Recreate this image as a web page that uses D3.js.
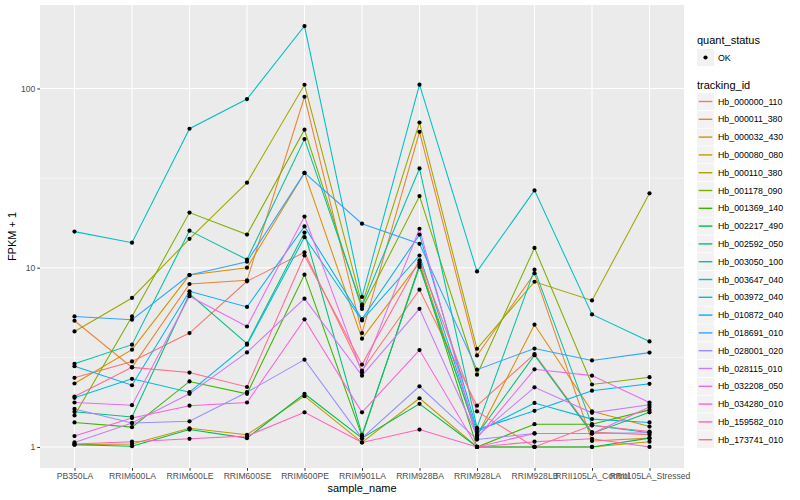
<!DOCTYPE html>
<html>
<head>
<meta charset="utf-8">
<script src="https://d3js.org/d3.v7.min.js"></script>
<style>
body { margin: 0; background: #fff; }
svg { display: block; font-family: "Liberation Sans", Arial, sans-serif; }
.grid-major { stroke: #fff; stroke-width: 1.07; }
.grid-minor { stroke: #fff; stroke-width: 0.53; }
.ttl { fill: #000; font-size: 11px; }
.leg-lab { fill: #000; font-size: 8.8px; }
</style>
<title>FPKM by sample</title>
</head>
<body>
<script>
var samples = ["PB350LA", "RRIM600LA", "RRIM600LE", "RRIM600SE", "RRIM600PE", "RRIM901LA",
  "RRIM928BA", "RRIM928LA", "RRIM928LB", "RRII105LA_Control", "RRII105LA_Stressed"];

var trackingIds = ["Hb_000000_110", "Hb_000011_380", "Hb_000032_430", "Hb_000080_080",
  "Hb_000110_380", "Hb_001178_090", "Hb_001369_140", "Hb_002217_490", "Hb_002592_050",
  "Hb_003050_100", "Hb_003647_040", "Hb_003972_040", "Hb_010872_040", "Hb_018691_010",
  "Hb_028001_020", "Hb_028115_010", "Hb_032208_050", "Hb_034280_010", "Hb_159582_010",
  "Hb_173741_010"];

// FPKM + 1, one row per tracking_id, one value per sample
var fpkm = [
  [2.43, 3.00, 4.32, 8.4, 12.2, 2.67, 7.54, 1.70, 3.30, 1.21, 1.17],
  [5.06, 2.78, 8.11, 8.5, 89.9, 4.32, 57.3, 3.24, 9.3, 1.08, 1.12],
  [2.26, 3.49, 9.1, 10.0, 33.8, 4.02, 10.7, 1.15, 4.81, 1.58, 1.30],
  [1.03, 1.04, 1.27, 1.17, 1.92, 1.06, 1.87, 1.0, 1.0, 1.0, 1.07],
  [4.41, 6.78, 14.5, 29.8, 104.9, 6.22, 64.6, 3.53, 8.35, 6.57, 26.0],
  [1.50, 5.35, 20.3, 15.3, 58.9, 5.89, 25.1, 2.53, 12.9, 2.23, 2.45],
  [1.37, 1.29, 2.32, 1.98, 9.15, 1.15, 10.4, 1.0, 1.34, 1.34, 1.61],
  [1.03, 1.01, 1.25, 1.12, 1.98, 1.12, 1.74, 1.0, 1.0, 1.0, 1.12],
  [1.57, 1.47, 7.14, 3.77, 15.7, 1.17, 10.1, 1.17, 3.25, 1.19, 1.56],
  [2.91, 3.72, 16.1, 11.1, 52.2, 6.09, 35.8, 1.28, 9.75, 1.32, 1.20],
  [15.9, 13.8, 59.6, 87.3, 223, 6.87, 105, 9.53, 27, 5.49, 3.88],
  [1.88, 2.40, 2.02, 3.72, 14.8, 5.08, 11.7, 1.21, 1.76, 1.43, 1.37],
  [2.82, 2.21, 7.39, 6.04, 17.0, 5.17, 15.3, 1.25, 1.59, 2.06, 2.25],
  [5.35, 5.13, 9.1, 10.8, 33.8, 17.6, 13.6, 2.70, 3.54, 3.04, 3.36],
  [1.63, 1.36, 1.39, 2.02, 3.07, 1.12, 2.18, 1.10, 1.19, 1.19, 1.20],
  [1.06, 1.36, 1.98, 3.37, 6.72, 2.50, 5.9, 1.15, 2.15, 1.55, 1.72],
  [1.77, 1.71, 6.93, 4.70, 19.3, 2.60, 16.5, 1.12, 2.71, 2.50, 1.77],
  [1.15, 1.45, 1.70, 1.77, 5.15, 1.56, 3.47, 1.0, 1.19, 1.19, 1.67],
  [1.04, 1.07, 1.11, 1.15, 1.56, 1.06, 1.25, 1.0, 1.07, 1.11, 1.0],
  [1.91, 2.78, 2.60, 2.16, 11.7, 2.88, 11.0, 1.58, 1.0, 1.32, 1.22]
];

var colors = ["#F8766D", "#EA8331", "#D89000", "#C09B00", "#A3A500", "#7CAE00", "#39B600",
  "#00BB4E", "#00BF7D", "#00C1A3", "#00BFC4", "#00BAE0", "#00B0F6", "#35A2FF", "#9590FF",
  "#C77CFF", "#E76BF3", "#FA62DB", "#FF62BC", "#FF6C91"];

var yTicks = [1, 10, 100];
var yMinor = [Math.pow(10, 0.5), Math.pow(10, 1.5)];

var W = 800, H = 500,
    pLeft = 40, pRight = 684, pTop = 5, pBottom = 468;

var svg = d3.select("body").append("svg")
    .attr("width", W)
    .attr("height", H);

var x = d3.scalePoint()
    .domain(samples)
    .range([pLeft, pRight])
    .padding(0.6);

var all = d3.merge(fpkm);
var lo = Math.log10(d3.min(all)), hi = Math.log10(d3.max(all)),
    pad = (hi - lo) * 0.05;
var y = d3.scaleLog()
    .domain([Math.pow(10, lo - pad), Math.pow(10, hi + pad)])
    .range([pBottom, pTop]);

// panel
svg.append("rect")
    .attr("x", pLeft).attr("y", pTop)
    .attr("width", pRight - pLeft).attr("height", pBottom - pTop)
    .attr("fill", "#ebebeb");

svg.selectAll(".gmin")
    .data(yMinor)
  .enter().append("line")
    .attr("class", "grid-minor")
    .attr("x1", pLeft).attr("x2", pRight)
    .attr("y1", y).attr("y2", y);

svg.selectAll(".gy")
    .data(yTicks)
  .enter().append("line")
    .attr("class", "grid-major")
    .attr("x1", pLeft).attr("x2", pRight)
    .attr("y1", y).attr("y2", y);

svg.selectAll(".gx")
    .data(samples)
  .enter().append("line")
    .attr("class", "grid-major")
    .attr("x1", x).attr("x2", x)
    .attr("y1", pTop).attr("y2", pBottom);

// axes
var yAxis = svg.append("g")
    .attr("transform", "translate(" + pLeft + ",0)")
    .call(d3.axisLeft(y).tickValues(yTicks).tickFormat(d3.format("d")).tickSize(2.75).tickPadding(2));
var xAxis = svg.append("g")
    .attr("transform", "translate(0," + pBottom + ")")
    .call(d3.axisBottom(x).tickSize(2.75).tickPadding(2));
[xAxis, yAxis].forEach(function(g) {
  g.select(".domain").remove();
  g.selectAll(".tick line").attr("stroke", "#333").attr("stroke-width", 1);
  g.selectAll(".tick text").attr("fill", "#4d4d4d")
    .style("font-size", "8.6px").style("font-family", "Liberation Sans, Arial, sans-serif");
});

// lines then points
var line = d3.line()
    .x(function(d, i) { return x(samples[i]); })
    .y(function(d) { return y(d); });

svg.selectAll(".series")
    .data(fpkm)
  .enter().append("path")
    .attr("d", line)
    .attr("fill", "none")
    .attr("stroke", function(d, i) { return colors[i]; })
    .attr("stroke-width", 1.05);

fpkm.forEach(function(row) {
  svg.selectAll(null)
      .data(row)
    .enter().append("circle")
      .attr("cx", function(d, i) { return x(samples[i]); })
      .attr("cy", function(d) { return y(d); })
      .attr("r", 2.1)
      .attr("fill", "#000");
});

// axis titles
svg.append("text")
    .attr("class", "ttl")
    .attr("x", (pLeft + pRight) / 2).attr("y", 492)
    .attr("text-anchor", "middle")
    .text("sample_name");
svg.append("text")
    .attr("class", "ttl")
    .attr("transform", "translate(16," + ((pTop + pBottom) / 2) + ") rotate(-90)")
    .attr("text-anchor", "middle")
    .text("FPKM + 1");

// legends
var lx = 697;
svg.append("text").attr("class", "ttl").attr("x", lx).attr("y", 44).text("quant_status");
svg.append("rect").attr("x", lx).attr("y", 49).attr("width", 17).attr("height", 17).attr("fill", "#f2f2f2");
svg.append("circle").attr("cx", lx + 8.5).attr("cy", 57.5).attr("r", 2.1).attr("fill", "#000");
svg.append("text").attr("class", "leg-lab").attr("x", lx + 21).attr("y", 60.6).text("OK");

svg.append("text").attr("class", "ttl").attr("x", lx).attr("y", 89).text("tracking_id");
var key = svg.selectAll(".key")
    .data(trackingIds)
  .enter().append("g")
    .attr("transform", function(d, i) { return "translate(" + lx + "," + (93 + i * 17.8) + ")"; });
key.append("rect")
    .attr("width", 17).attr("height", 17)
    .attr("fill", "#f2f2f2");
key.append("line")
    .attr("x1", 1.7).attr("x2", 15.3)
    .attr("y1", 8.5).attr("y2", 8.5)
    .attr("stroke", function(d, i) { return colors[i]; })
    .attr("stroke-width", 1.4);
key.append("text")
    .attr("class", "leg-lab")
    .attr("x", 21).attr("y", 11.6)
    .text(function(d) { return d; });
</script>
</body>
</html>
